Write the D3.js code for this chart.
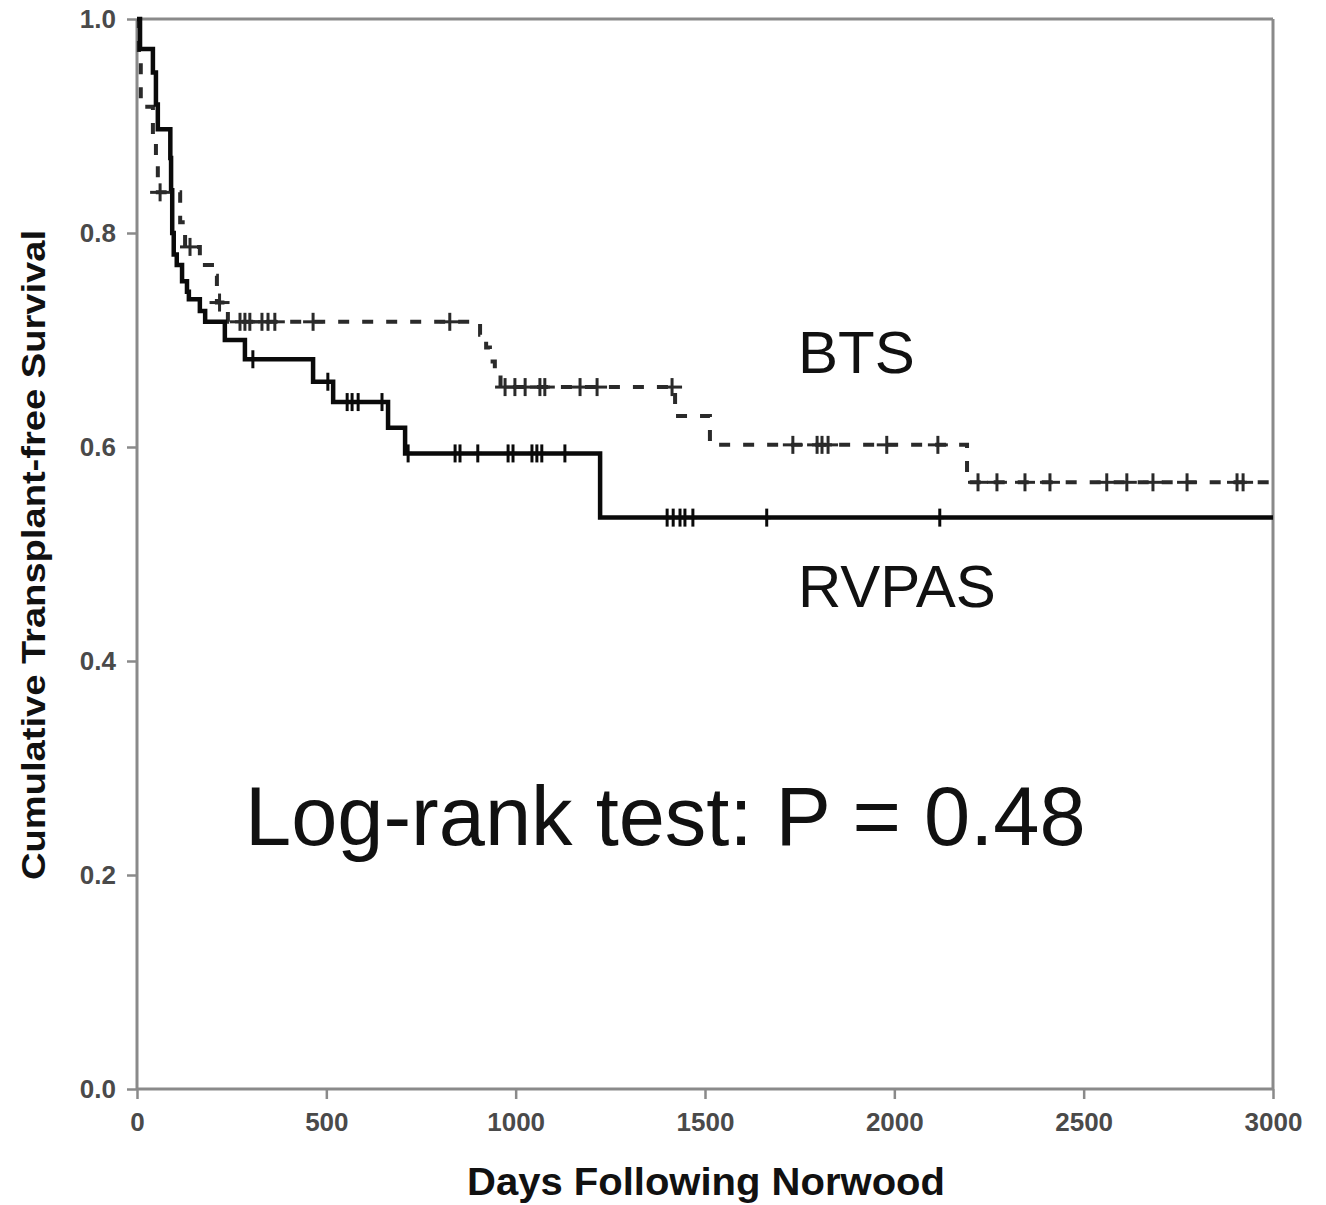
<!DOCTYPE html>
<html>
<head>
<meta charset="utf-8">
<script src="https://cdn.jsdelivr.net/npm/d3@7"></script>
<style>
  html, body { margin: 0; padding: 0; background: #fff; }
  svg { display: block; }
</style>
</head>
<body>
<svg id="chart" width="1326" height="1205"></svg>
<script>
// ---- Data ----
const xTicks = [0, 500, 1000, 1500, 2000, 2500, 3000];
const yTicks = [0.0, 0.2, 0.4, 0.6, 0.8, 1.0];

// RVPAS (solid) step function: event days and survival after the step
const rvpasTimes = [0, 8, 42, 50, 55, 88, 90, 93, 97, 105, 119, 132, 137, 166, 180, 232, 285, 465, 518, 663, 708, 1223];
const rvpasSurv  = [1.0, 0.972, 0.95, 0.92, 0.897, 0.87, 0.84, 0.80, 0.78, 0.77, 0.755, 0.745, 0.738, 0.727, 0.717, 0.70, 0.682, 0.661, 0.642, 0.618, 0.594, 0.534];
const rvpasCensor = [306, 504, 555, 568, 584, 647, 716, 840, 853, 900, 980, 993, 1043, 1056, 1069, 1130, 1400, 1416, 1434, 1447, 1468, 1663, 2120];

// BTS (dashed) step function
const btsTimes = [0, 5, 10, 42, 50, 55, 114, 127, 166, 198, 211, 240, 906, 922, 932, 945, 960, 1421, 1513, 2192];
const btsSurv  = [1.0, 0.96, 0.918, 0.89, 0.87, 0.838, 0.81, 0.787, 0.77, 0.76, 0.735, 0.717, 0.705, 0.693, 0.68, 0.668, 0.656, 0.629, 0.602, 0.567];
const btsCensor = [61, 140, 218, 272, 285, 298, 330, 346, 364, 465, 826, 972, 998, 1025, 1064, 1077, 1170, 1215, 1413, 1732, 1796, 1809, 1825, 1980, 2115, 2221, 2271, 2345, 2411, 2561, 2614, 2683, 2773, 2905, 2921];

const endDay = 3000;
const xTitle = "Days Following Norwood";
const yTitle = "Cumulative Transplant-free Survival";
const labelBTS = "BTS";
const labelRVPAS = "RVPAS";
const annotation = "Log-rank test: P = 0.48";

// ---- Drawing ----
const svg = d3.select("#chart");
const x = d3.scaleLinear().domain([0, 3000]).range([137, 1273]);
const y = d3.scaleLinear().domain([0, 1]).range([1089, 19]);

const axisColor = "#8a8a8a";
const font = "'Liberation Sans', Arial, Helvetica, sans-serif";

// frame: top and right borders
svg.append("line").attr("x1", x(0)).attr("x2", x(3000)).attr("y1", y(1)).attr("y2", y(1))
  .attr("stroke", axisColor).attr("stroke-width", 3);
svg.append("line").attr("x1", x(3000)).attr("x2", x(3000)).attr("y1", y(1)).attr("y2", y(0))
  .attr("stroke", axisColor).attr("stroke-width", 3);

// axes
const xAxis = d3.axisBottom(x).tickValues(xTicks).tickFormat(d3.format("d")).tickSize(10).tickPadding(14);
const yAxis = d3.axisLeft(y).tickValues(yTicks).tickFormat(d3.format(".1f")).tickSize(10).tickPadding(11);

const gx = svg.append("g").attr("transform", `translate(0,${y(0)})`).call(xAxis);
const gy = svg.append("g").attr("transform", `translate(${x(0)},0)`).call(yAxis);
[gx, gy].forEach(g => {
  g.select(".domain").attr("stroke", axisColor).attr("stroke-width", 3);
  g.selectAll(".tick line").attr("stroke", axisColor).attr("stroke-width", 2.5);
  g.selectAll(".tick text").attr("fill", "#4a4a4a").attr("font-family", font)
    .attr("font-weight", "bold").attr("font-size", 26);
});
gx.select(".domain").attr("d", `M${x(0)},0H${x(3000)}`);
gy.select(".domain").attr("d", `M0,${y(0)}V${y(1)}`);

// step data
function steps(times, surv) {
  const pts = times.map((t, i) => [t, surv[i]]);
  pts.push([endDay, surv[surv.length - 1]]);
  return pts;
}
function survAt(times, surv, t) {
  let v = surv[0];
  for (let i = 0; i < times.length; i++) { if (times[i] <= t) v = surv[i]; }
  return v;
}
const line = d3.line().x(d => x(d[0])).y(d => y(d[1])).curve(d3.curveStepAfter);

// BTS dashed
svg.append("path").datum(steps(btsTimes, btsSurv)).attr("d", line)
  .attr("fill", "none").attr("stroke", "#2a2a2a").attr("stroke-width", 4)
  .attr("stroke-dasharray", "11,13");
// RVPAS solid
svg.append("path").datum(steps(rvpasTimes, rvpasSurv)).attr("d", line)
  .attr("fill", "none").attr("stroke", "#0a0a0a").attr("stroke-width", 4.5);

// censor marks
function drawCensor(days, times, surv, color, hw) {
  const g = svg.append("g").attr("stroke", color).attr("stroke-width", 3);
  days.forEach(dd => {
    const cx = x(dd), cy = y(survAt(times, surv, dd));
    g.append("line").attr("x1", cx).attr("x2", cx).attr("y1", cy - 9).attr("y2", cy + 9);
    g.append("line").attr("x1", cx - hw).attr("x2", cx + hw).attr("y1", cy).attr("y2", cy);
  });
}
drawCensor(btsCensor, btsTimes, btsSurv, "#2a2a2a", 10);
drawCensor(rvpasCensor, rvpasTimes, rvpasSurv, "#0a0a0a", 4);

// text labels
svg.append("text").attr("x", 798).attr("y", 373).text(labelBTS)
  .attr("font-family", font).attr("font-size", 60).attr("fill", "#111");
svg.append("text").attr("x", 798).attr("y", 607).text(labelRVPAS)
  .attr("font-family", font).attr("font-size", 60).attr("fill", "#111");
svg.append("text").attr("x", 245).attr("y", 845).text(annotation)
  .attr("font-family", font).attr("font-size", 83).attr("fill", "#111");

// axis titles
svg.append("text").attr("x", 706).attr("y", 1195).attr("text-anchor", "middle").text(xTitle)
  .attr("font-family", font).attr("font-weight", "bold").attr("font-size", 38).attr("fill", "#111")
  .attr("textLength", 478).attr("lengthAdjust", "spacingAndGlyphs");
svg.append("text").attr("transform", `translate(45,${555}) rotate(-90)`).attr("text-anchor", "middle").text(yTitle)
  .attr("font-family", font).attr("font-weight", "bold").attr("font-size", 34).attr("fill", "#111")
  .attr("textLength", 650).attr("lengthAdjust", "spacingAndGlyphs");
</script>
</body>
</html>
